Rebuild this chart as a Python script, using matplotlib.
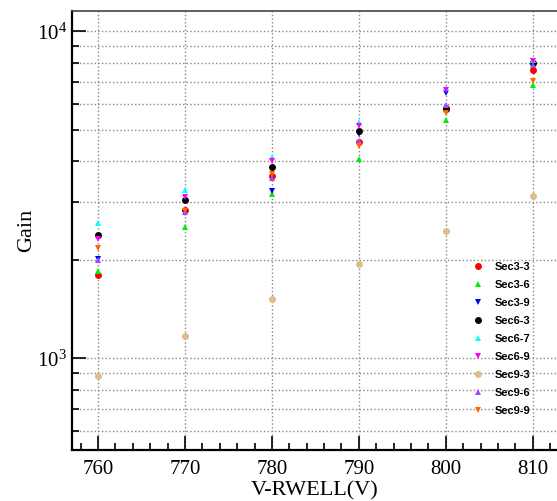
import numpy as np
import matplotlib
matplotlib.use("Agg")
import matplotlib.pyplot as plt
from matplotlib.ticker import LogLocator, LogFormatterMathtext, MultipleLocator, NullFormatter

# ----------------- Data ------------------- #

voltages = [760, 770, 780, 790, 800, 810]

sectors = ["Sec3-3", "Sec3-6", "Sec3-9", "Sec6-3", "Sec6-7",
           "Sec6-9", "Sec9-3", "Sec9-6", "Sec9-9"]

gain_sec3_3 = [1800, 2840, 3610, 4600, 5815, 7620]
gain_sec3_6 = [1855, 2525, 3180, 4060, 5355, 6850]
gain_sec3_9 = [2015, 2780, 3240, 4850, 6490, 7950]
gain_sec6_3 = [2390, 3045, 3845, 4970, 5775, 7980]
gain_sec6_7 = [2600, 3280, 4120, 5290, 6720, 8150]
gain_sec6_9 = [2310, 3120, 4010, 5140, 6630, 8100]
gain_sec9_3 = [880, 1172, 1518, 1942, 2445, 3140]
gain_sec9_6 = [2000, 2800, 3560, 4630, 5950, 7890]
gain_sec9_9 = [2180, 2820, 3660, 4455, 5635, 7060]

gains = [gain_sec3_3, gain_sec3_6, gain_sec3_9, gain_sec6_3, gain_sec6_7,
         gain_sec6_9, gain_sec9_3, gain_sec9_6, gain_sec9_9]

colors = ["#ff0000", "#00ee00", "#0000ff", "#000000", "#00ffff",
          "#ff00ff", "#e0bc8a", "#9a4dff", "#ff6600"]
markers = ["o", "^", "v", "o", "^", "v", "o", "^", "v"]

# ---------- Plot ----------------------------- #

plt.rcParams["font.family"] = ["Liberation Serif", "DejaVu Serif"]
plt.rcParams["mathtext.fontset"] = "stix"

fig = plt.figure(figsize=(5.57, 5.01), dpi=100)
ax = fig.add_axes([72 / 557, 1 - 450 / 501, 1 - 72 / 557, (450 - 11) / 501])

for name, g, c, m in zip(sectors, gains, colors, markers):
    ax.plot(voltages, g, linestyle="none", marker=m, color=c,
            markersize=5, markeredgewidth=0, label=name)

ax.set_yscale("log")
ax.set_ylim(524, 11540)
ax.set_xlim(757.0, 812.8)

ax.xaxis.set_major_locator(MultipleLocator(10))
ax.xaxis.set_minor_locator(MultipleLocator(2))
ax.yaxis.set_major_locator(LogLocator(base=10))
ax.yaxis.set_major_formatter(LogFormatterMathtext())
ax.yaxis.set_minor_locator(LogLocator(base=10, subs=np.arange(2, 10)))
ax.yaxis.set_minor_formatter(NullFormatter())

ax.tick_params(axis="both", which="major", direction="in", length=10,
               width=1.2, labelsize=15)
ax.tick_params(axis="both", which="minor", direction="in", length=5,
               width=1.2)
ax.tick_params(axis="x", which="major", pad=7)

ax.grid(True, which="major", axis="x", linestyle=":", color="#888888", linewidth=1)
ax.grid(True, which="both", axis="y", linestyle=":", color="#888888", linewidth=1)
ax.set_axisbelow(True)

ax.spines["right"].set_visible(False)
for s in ("left", "bottom"):
    ax.spines[s].set_linewidth(1.6)
ax.spines["top"].set_linewidth(1.2)
ax.spines["top"].set_color("#444444")

ax.set_xlabel("V-RWELL(V)", fontsize=16, labelpad=2)
ax.set_ylabel("Gain", fontsize=16, labelpad=1)

leg = ax.legend(loc="upper left", bbox_to_anchor=(0.817, 0.439), frameon=False,
                prop={"family": "Liberation Sans", "weight": "bold", "size": 8},
                handletextpad=1.0, labelspacing=0.72, handlelength=1.0,
                markerscale=1.0, borderaxespad=0)

plt.savefig("out.png", dpi=100)
